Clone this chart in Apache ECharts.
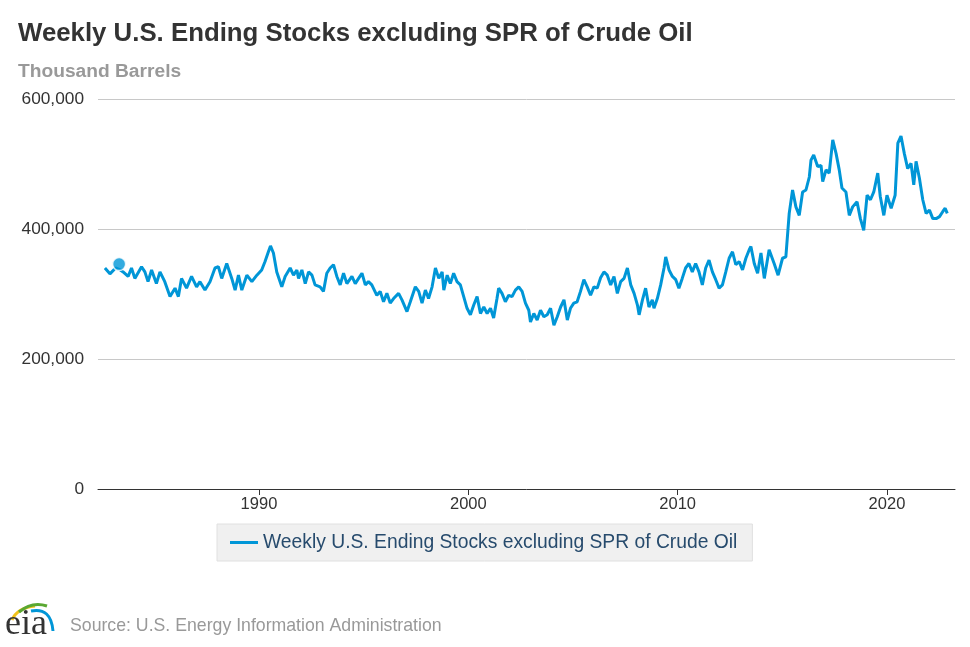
<!DOCTYPE html>
<html>
<head>
<meta charset="utf-8">
<script src="https://cdn.jsdelivr.net/npm/echarts@6/dist/echarts.min.js"></script>
<style>
html,body{margin:0;padding:0;background:#fff;}
#chart{width:970px;height:647px;}
</style>
</head>
<body>
<div id="chart"></div>
<script>
// Decimal-year positions of the readings
const years = [
1982.64,1982.88,1983.15,1983.32,1983.51,1983.75,1983.91,1984.07,1984.39,1984.55,1984.70,1984.87,
1985.10,1985.27,1985.50,1985.75,1985.99,1986.15,1986.30,1986.54,1986.78,1987.02,1987.18,1987.42,
1987.66,1987.90,1988.06,1988.22,1988.46,1988.70,1988.86,1989.02,1989.18,1989.42,1989.66,1989.90,
1990.13,1990.29,1990.45,1990.55,1990.69,1990.85,1991.09,1991.25,1991.49,1991.65,1991.81,1991.89,
1992.05,1992.21,1992.37,1992.53,1992.68,1992.92,1993.08,1993.24,1993.40,1993.56,1993.72,1993.88,
1994.04,1994.20,1994.44,1994.60,1994.76,1994.92,1995.08,1995.23,1995.39,1995.63,1995.79,1995.95,
1996.11,1996.27,1996.43,1996.67,1996.83,1997.07,1997.23,1997.47,1997.63,1997.79,1997.95,1998.10,
1998.27,1998.43,1998.59,1998.75,1998.83,1998.99,1999.14,1999.30,1999.46,1999.62,1999.78,1999.94,
2000.10,2000.26,2000.42,2000.58,2000.74,2000.90,2001.06,2001.21,2001.37,2001.45,2001.61,2001.77,
2001.93,2002.09,2002.25,2002.41,2002.57,2002.73,2002.89,2002.97,2003.13,2003.29,2003.45,2003.61,
2003.77,2003.93,2004.09,2004.25,2004.41,2004.57,2004.73,2004.88,2005.04,2005.20,2005.36,2005.52,
2005.68,2005.84,2006.00,2006.16,2006.32,2006.48,2006.64,2006.80,2006.96,2007.12,2007.28,2007.44,
2007.60,2007.76,2007.92,2008.08,2008.16,2008.32,2008.47,2008.63,2008.79,2008.87,2009.03,2009.19,
2009.35,2009.43,2009.59,2009.75,2009.91,2010.06,2010.22,2010.38,2010.54,2010.70,2010.86,2011.02,
2011.18,2011.34,2011.50,2011.66,2011.82,2011.98,2012.14,2012.30,2012.46,2012.62,2012.78,2012.94,
2013.10,2013.26,2013.42,2013.50,2013.66,2013.82,2013.98,2014.14,2014.37,2014.61,2014.80,2015.01,
2015.17,2015.33,2015.49,2015.65,2015.81,2015.97,2016.13,2016.29,2016.37,2016.50,2016.69,2016.85,
2016.93,2017.09,2017.24,2017.41,2017.57,2017.72,2017.85,2018.04,2018.20,2018.36,2018.57,2018.73,
2018.89,2019.05,2019.21,2019.37,2019.56,2019.68,2019.85,2020.00,2020.20,2020.39,2020.52,2020.67,
2020.83,2020.99,2021.15,2021.28,2021.39,2021.55,2021.71,2021.87,2022.03,2022.19,2022.35,2022.51,
2022.67,2022.78,2022.88
];
// Ending stocks, thousand barrels
const stocks = [
340000,331000,340000,338000,334000,327000,340000,324000,342000,334000,319000,337000,
316000,334000,319000,296000,309000,296000,324000,309000,327000,311000,319000,306000,
319000,340000,342000,324000,347000,324000,306000,329000,306000,329000,319000,329000,
337000,350000,365000,374000,363000,334000,311000,327000,340000,329000,337000,324000,
337000,316000,334000,329000,314000,311000,304000,332000,340000,345000,327000,314000,
332000,316000,327000,316000,324000,332000,314000,319000,314000,298000,304000,288000,
301000,286000,293000,301000,291000,273000,288000,311000,304000,286000,306000,293000,
311000,340000,324000,334000,306000,329000,316000,332000,319000,314000,296000,278000,
268000,283000,296000,270000,280000,270000,278000,263000,293000,309000,301000,288000,
298000,296000,306000,311000,304000,286000,275000,257000,270000,260000,275000,265000,
268000,278000,252000,265000,280000,291000,260000,278000,286000,288000,304000,322000,
311000,298000,311000,309000,325000,334000,329000,314000,327000,301000,319000,324000,
340000,314000,301000,283000,268000,291000,309000,280000,291000,278000,293000,314000,
340000,357000,337000,327000,322000,309000,324000,340000,347000,334000,347000,334000,
314000,340000,352000,334000,322000,309000,314000,334000,355000,365000,345000,350000,
337000,355000,368000,373000,347000,332000,363000,324000,368000,347000,329000,355000,
357000,424000,460000,434000,421000,457000,460000,480000,506000,514000,496000,498000,
473000,491000,486000,537000,516000,491000,463000,457000,421000,434000,442000,416000,
398000,452000,445000,457000,486000,450000,421000,452000,432000,452000,532000,543000,
516000,493000,501000,468000,504000,478000,445000,424000,429000,416000,416000,419000,
427000,432000,424000
];
const highlight = [1983.32, 346000];
const xTickYears = [1990, 2000, 2010, 2020];
const seriesName = 'Weekly U.S. Ending Stocks excluding SPR of Crude Oil';

const lineData = years.map((y, i) => [y, stocks[i]]);
const blue = '#0096d7';
const FF = 'Liberation Sans, Arial, sans-serif';
const fmt = v => String(v).replace(/\B(?=(\d{3})+(?!\d))/g, ',');

const chart = echarts.init(document.getElementById('chart'), null, {renderer: 'canvas'});
chart.setOption({
  backgroundColor: '#fff',
  animation: false,
  textStyle: {fontFamily: FF},
  title: [
    {text: 'Weekly U.S. Ending Stocks excluding SPR of Crude Oil', left: 13, top: 16,
     textStyle: {fontSize: 25.8, fontWeight: 'bold', color: '#333', fontFamily: FF}},
    {text: 'Thousand Barrels', left: 13, top: 57,
     textStyle: {fontSize: 19.2, fontWeight: 'bold', color: '#999', fontFamily: FF}},
    {text: 'Source: U.S. Energy Information Administration', left: 65, top: 612,
     textStyle: {fontSize: 17.7, fontWeight: 'normal', color: '#999', fontFamily: FF}}
  ],
  legend: {
    data: [seriesName],
    left: 217, top: 524,
    padding: [9, 15, 9, 13],
    backgroundColor: '#f0f0f0',
    borderColor: '#e0e0e0', borderWidth: 1,
    itemWidth: 28, itemHeight: 3,
    icon: 'rect',
    textStyle: {fontSize: 19.3, color: '#274b6d', fontFamily: FF}
  },
  grid: {left: 98, right: 15, top: 99, bottom: 158, containLabel: false},
  xAxis: {
    type: 'value', min: 1982.31, max: 2023.25,
    axisLine: {show: true, lineStyle: {color: '#333', width: 1}},
    axisTick: {show: true, customValues: xTickYears, length: 6, lineStyle: {color: '#333'}},
    axisLabel: {customValues: xTickYears, formatter: v => String(Math.round(v)), fontSize: 16.5, color: '#333', margin: 7},
    splitLine: {show: false}
  },
  yAxis: {
    type: 'value', min: 0, max: 600000, interval: 200000,
    axisLine: {show: false}, axisTick: {show: false},
    axisLabel: {formatter: v => fmt(v), fontSize: 17.3, color: '#333', margin: 14},
    splitLine: {lineStyle: {color: '#c8c8c8', width: 1}}
  },
  series: [
    {name: seriesName, type: 'line', data: lineData, showSymbol: false, symbol: 'none',
     lineStyle: {color: blue, width: 3}, itemStyle: {color: blue}, z: 2},
    {name: 'highlight', type: 'scatter', data: [highlight], symbolSize: 13,
     itemStyle: {color: blue, borderColor: '#fff', borderWidth: 1.5}, z: 3}
  ],
  graphic: [
    {type: 'bezierCurve', shape: {x1: 12, y1: 620, x2: 35, y2: 606, cpx1: 17, cpy1: 608}, style: {stroke: '#f2c319', lineWidth: 3, fill: null}},
    {type: 'bezierCurve', shape: {x1: 19, y1: 612, x2: 47, y2: 606, cpx1: 32, cpy1: 601}, style: {stroke: '#5aa832', lineWidth: 3, fill: null}},
    {type: 'bezierCurve', shape: {x1: 31, y1: 611, x2: 53, y2: 631, cpx1: 51, cpy1: 607}, style: {stroke: '#0096d7', lineWidth: 3, fill: null}},
    {type: 'text', left: 5, top: 607, style: {text: 'eia', fontSize: 36, fontFamily: 'Liberation Serif, DejaVu Serif, serif', fill: '#333'}}
  ]
});
</script>
</body>
</html>
